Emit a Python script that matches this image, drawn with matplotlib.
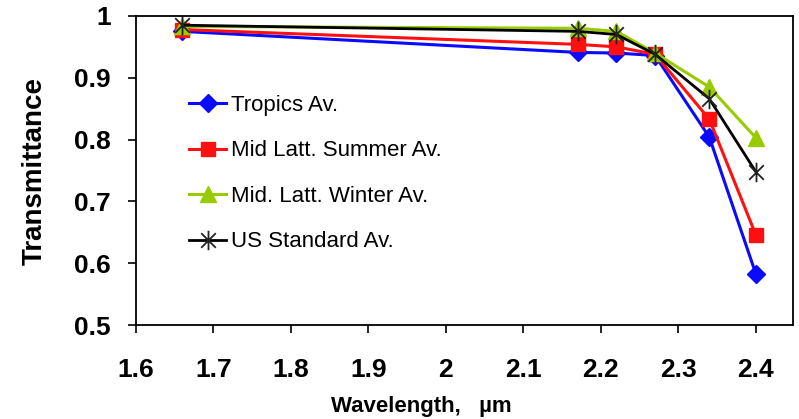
import matplotlib
matplotlib.use("Agg")
import matplotlib.pyplot as plt
from matplotlib.path import Path

plt.rcParams['font.family'] = ['Liberation Sans', 'DejaVu Sans']

wavelength = [1.66, 2.17, 2.22, 2.27, 2.34, 2.40]
tropics = [0.975, 0.941, 0.940, 0.936, 0.804, 0.583]
mid_summer = [0.978, 0.954, 0.950, 0.938, 0.833, 0.646]
mid_winter = [0.983, 0.980, 0.975, 0.940, 0.885, 0.803]
us_standard = [0.985, 0.975, 0.970, 0.938, 0.866, 0.748]

labels = ["Tropics Av.", "Mid Latt. Summer Av.", "Mid. Latt. Winter Av.", "US Standard Av."]
xticks = [1.6, 1.7, 1.8, 1.9, 2.0, 2.1, 2.2, 2.3, 2.4]
xtick_labels = ["1.6", "1.7", "1.8", "1.9", "2", "2.1", "2.2", "2.3", "2.4"]
yticks = [0.5, 0.6, 0.7, 0.8, 0.9, 1.0]
ytick_labels = ["0.5", "0.6", "0.7", "0.8", "0.9", "1"]

# excel-like asterisk: x plus vertical bar
star = Path([(0, -1), (0, 1), (-0.75, -0.75), (0.75, 0.75), (-0.75, 0.75), (0.75, -0.75)],
            [Path.MOVETO, Path.LINETO, Path.MOVETO, Path.LINETO, Path.MOVETO, Path.LINETO])

fig = plt.figure(figsize=(7.99, 4.19), dpi=100)
ax = fig.add_axes([0.170, 0.224, 0.8225, 0.738])

ax.plot(wavelength, tropics, color='#0a0aff', lw=2.2, marker='D', ms=9.5, label=labels[0])
ax.plot(wavelength, mid_summer, color='#ff1010', lw=2.2, marker='s', ms=10, label=labels[1])
ax.plot(wavelength, mid_winter, color='#99cc00', lw=2.2, marker='^', ms=11, label=labels[2])
ax.plot(wavelength, us_standard, color='black', lw=2, marker=star, ms=14, mew=1.3,
        mec='#222222', label=labels[3])

ax.set_xlim(1.6, 2.448)
ax.set_ylim(0.5, 1.0)
ax.set_xticks(xticks)
ax.set_xticklabels(xtick_labels, fontsize=19, fontweight='bold')
ax.set_yticks(yticks)
ax.set_yticklabels(ytick_labels, fontsize=19, fontweight='bold')
ax.tick_params(direction='out', length=6, width=1.2)
ax.tick_params(axis='x', pad=18)
ax.tick_params(axis='y', pad=12)
for s in ax.spines.values():
    s.set_linewidth(1.3)

ax.set_xlabel("Wavelength,   \u00b5m", fontsize=16, fontweight='bold', va='center')
ax.xaxis.set_label_coords(0.434, -0.262)
ax.set_ylabel("Transmittance", fontsize=20, fontweight='bold', labelpad=19)

ax.legend(loc='upper left', bbox_to_anchor=(0.068, 0.773), frameon=False, fontsize=16,
          handlelength=1.66, handletextpad=0.22, labelspacing=1.1, borderaxespad=0)

fig.savefig("out.png", dpi=100)
